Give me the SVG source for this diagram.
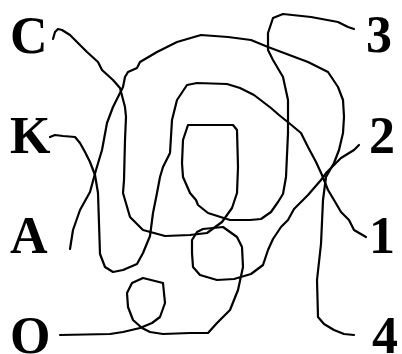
<svg xmlns="http://www.w3.org/2000/svg" width="402" height="354" viewBox="0 0 402 354">
<style>
.lbl{font-family:"Liberation Serif","Times New Roman",serif;font-weight:bold;font-size:52px;fill:#000}
.ln{fill:none;stroke:#000;stroke-width:2.2;stroke-linejoin:round;stroke-linecap:round}
</style>
<rect width="402" height="354" fill="#fff"/>
<g id="node-C"><text class="lbl" x="10" y="53">C</text></g>
<g id="node-K"><text class="lbl" x="10" y="153">K</text></g>
<g id="node-A"><text class="lbl" x="10" y="253">A</text></g>
<g id="node-O"><text class="lbl" x="10" y="353">O</text></g>
<g id="node-3"><text class="lbl" x="366" y="52">3</text></g>
<g id="node-2"><text class="lbl" x="369" y="153">2</text></g>
<g id="node-1"><text class="lbl" x="369" y="253">1</text></g>
<g id="node-4"><text class="lbl" x="372" y="353">4</text></g>
<g id="connectors">
<polyline class="ln" points="53,39 55,32 58,29 62,30 70,35 77,42 87,52 98,62 102,70 113,80 120,88 125,107 126,117 125,140 124,180 123,193 130,217 143,230 165,236 190,235 207,233 222,222 232,208 237,193 238,167 237,130 233,125 188,125 183,140 182,163 183,177 190,193 196,200 198,205 208,213 230,220 250,220 261,219 271,212 278,202 283,194 286,177 288,133 288,100 283,77 273,60 268,50 268,33 273,18 283,14 311,17 338,22 348,27 354,29"/>
<polyline class="ln" points="70,249 73,230 80,210 90,192 96,170 102,150 107,123 113,107 118,97 123,87 125,77 128,72 137,68 140,62 157,52 177,42 201,35 228,37 251,40 268,47 284,53 308,62 328,72 338,87 343,100 344,117 343,133 339,150 334,163 326,177 323,200 321,244 317,280 318,317 324,324 334,330 344,334 354,335"/>
<polyline class="ln" points="50,137 55,135 63,136 75,137 80,143 85,152 90,162 95,175 98,193 100,254 105,267 113,272 123,270 137,264 143,253 150,236 153,213 157,193 160,177 163,167 170,153 172,120 177,100 187,85 197,83 227,84 240,88 254,95 271,108 279,115 289,123 301,133 308,147 316,162 322,175 328,190 334,200 341,212 349,220 354,230 366,237"/>
<polyline class="ln" points="60,335 110,334 123,332 140,328 152,323 160,317 165,303 163,283 143,278 132,283 127,293 128,307 133,320 142,328 150,332 163,334 190,333 208,333 217,323 230,310 238,290 243,267 242,247 237,237 223,227 203,229 197,232 192,240 192,253 193,267 200,275 217,280 234,279 251,274 263,265 268,250 273,239 281,227 288,220 294,209 308,195 321,180 327,172 341,158 354,150 359,145"/>
</g>
</svg>
